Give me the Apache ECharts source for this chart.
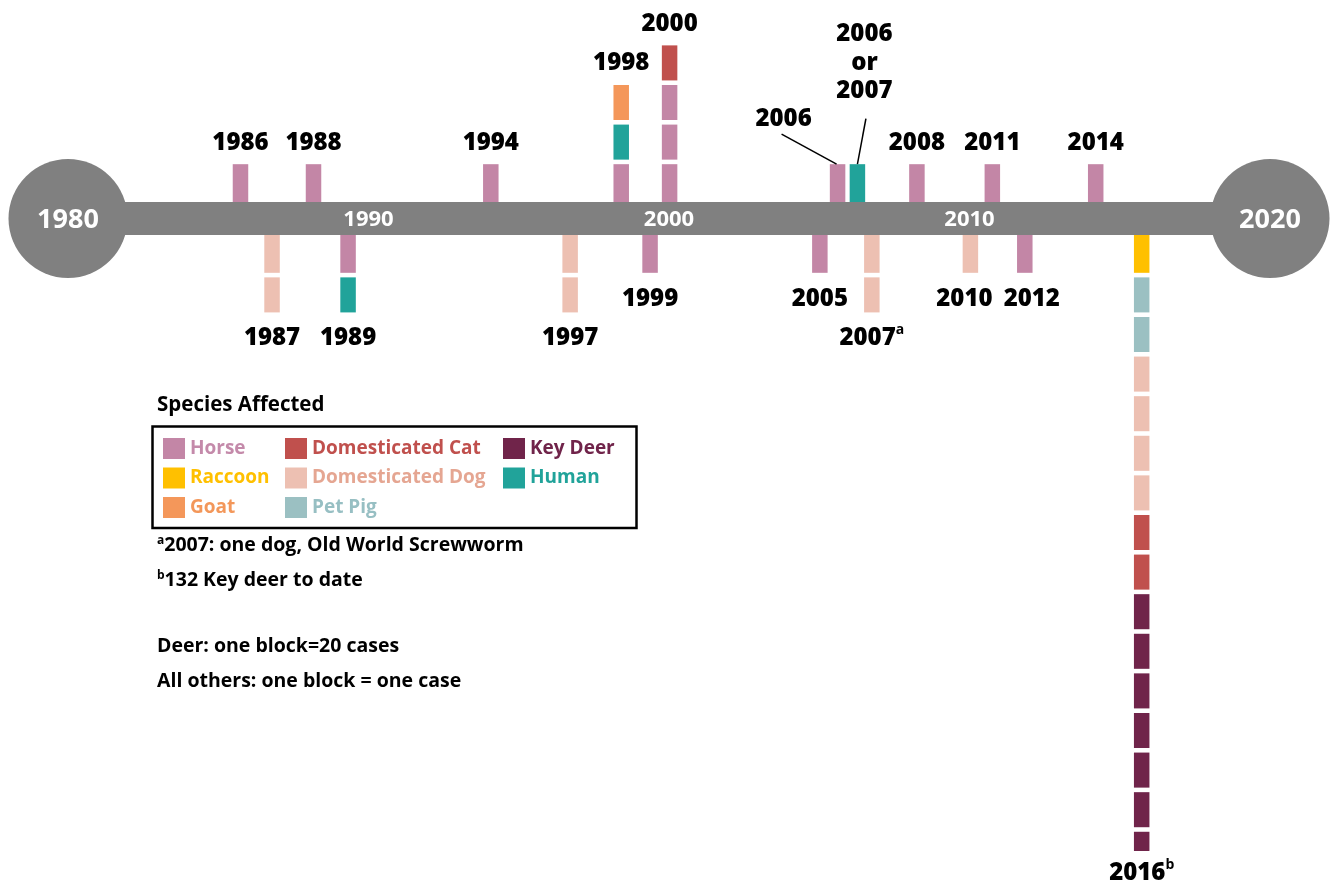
<!DOCTYPE html>
<html><head><meta charset="utf-8">
<script src="https://cdn.jsdelivr.net/npm/echarts@6/dist/echarts.min.js"></script>
<style>html,body{margin:0;padding:0;background:#fff}#chart{width:1331px;height:888px}</style>
</head><body><div id="chart"></div>
<script>
// ---------------- data ----------------
const species = ['Horse','Raccoon','Goat','Domesticated Cat','Domesticated Dog','Pet Pig','Key Deer','Human'];
const speciesColors = ['#C386A6','#FFC000','#F4975A','#C0504D','#EDC0B2','#9BC0C2','#70244A','#21A39A'];
const legendTextColors = ['#C48AAA','#FFC000','#F3975A','#C0504D','#E5A692','#97BFC3','#70244A','#21A39A'];
const legendColumns = [['Horse','Raccoon','Goat'],['Domesticated Cat','Domesticated Dog','Pet Pig'],['Key Deer','Human']];

// event labels as written on the chart
const eventLabels = ['1986','1987','1988','1989','1994','1997','1998','1999','2000','2005','2006','2006\nor\n2007','2007{sup|a}','2008','2010','2011','2012','2014','2016{sup|b}'];
// where each event sits along the timeline (years)
const eventAxisPos = [1985.74,1986.79,1988.17,1989.32,1994.07,1996.71,1998.41,1999.37,2000.02,2005.02,2005.61,2006.27,2006.75,2008.25,2010.03,2010.76,2011.84,2014.20,2015.73];
// 1 = above the timeline, -1 = below
const eventSide = [1,-1,1,-1,1,-1,1,-1,1,-1,1,1,-1,1,-1,1,-1,1,-1];
// cases, from the timeline outward
const eventCases = [
  [['Horse',1]],
  [['Domesticated Dog',2]],
  [['Horse',1]],
  [['Horse',1],['Human',1]],
  [['Horse',1]],
  [['Domesticated Dog',2]],
  [['Horse',1],['Human',1],['Goat',1]],
  [['Horse',1]],
  [['Horse',3],['Domesticated Cat',1]],
  [['Horse',1]],
  [['Horse',1]],
  [['Human',1]],
  [['Domesticated Dog',2]],
  [['Horse',1]],
  [['Domesticated Dog',1]],
  [['Horse',1]],
  [['Horse',1]],
  [['Horse',1]],
  [['Raccoon',1],['Pet Pig',2],['Domesticated Dog',4],['Domesticated Cat',2],['Key Deer',132]]
];
const deerCasesPerBlock = 20;
const axisEnds = [1980, 2020];
const axisTicks = [1980, 1990, 2000, 2010, 2020];

const legendTitle = 'Species Affected';
const footnotes = ['{sup|a}2007: one dog, Old World Screwworm','{sup|b}132 Key deer to date','Deer: one block=20 cases','All others: one block = one case'];

// ---------------- layout / style ----------------
const FONT = '"Open Sans", "Liberation Sans", sans-serif';
const BAR_HALF = 16.5;
const BLOCK_W = 15.5;
const labelTweaks = {
  10: {dx: -54, dy: -24, line: [[-56, -30], [-1, 0]]},
  11: {dx: 7, dy: -80, lineHeight: 28.5, line: [[8.5, -45.6], [0, 0]]},
  14: {dx: -6},
  16: {dx: 7},
  18: {dy: -4}
};

// build block and label data from the event arrays
const blockData = [];
const labelData = [];
eventLabels.forEach((lab, i) => {
  let k = 0, ext = 0;
  eventCases[i].forEach(([sp, n]) => {
    const si = species.indexOf(sp);
    let rem = sp === 'Key Deer' ? n / deerCasesPerBlock : n;
    while (rem > 1e-9) {
      const f = Math.min(1, rem);
      blockData.push([eventAxisPos[i], eventSide[i], k, f, si]);
      ext = k + f;
      k += 1; rem -= f;
    }
  });
  labelData.push([eventAxisPos[i], eventSide[i], ext, i]);
});

function renderBlock(params, api) {
  const x = api.value(0), side = api.value(1), k = api.value(2), f = api.value(3), si = api.value(4);
  const c = api.coord([x, 0]);
  const unit = api.size([0, 1])[1];
  const edge = c[1] - side * BAR_HALF;
  const d0 = k === 0 ? 0 : (k + 0.07) * unit;
  const d1 = (k + f - 0.045) * unit;
  const y0 = edge - side * d0, y1 = edge - side * d1;
  return {type: 'rect', shape: {x: c[0] - BLOCK_W / 2, y: Math.min(y0, y1), width: BLOCK_W, height: Math.abs(y1 - y0)},
    style: {fill: speciesColors[si]}};
}

function renderLabel(params, api) {
  const x = api.value(0), side = api.value(1), ext = api.value(2), i = api.value(3);
  const c = api.coord([x, 0]);
  const unit = api.size([0, 1])[1];
  const edge = c[1] - side * BAR_HALF;
  const endY = edge - side * (ext - 0.045) * unit;
  const tw = labelTweaks[i] || {};
  const ty = endY - side * (side > 0 ? 21.5 : 26) + (tw.dy || 0);
  const tx = c[0] + (tw.dx || 0);
  const children = [{
    type: 'text',
    style: {
      text: eventLabels[i], x: tx, y: ty, align: 'center', verticalAlign: 'middle',
      fontFamily: FONT, fontWeight: 800, fontSize: 24, fill: '#000',
      lineHeight: tw.lineHeight || 30,
      rich: {sup: {fontFamily: FONT, fontWeight: 'bold', fontSize: 14, verticalAlign: 'top', fill: '#000', lineHeight: 16}}
    }
  }];
  if (tw.line) {
    children.push({type: 'line', shape: {x1: c[0] + tw.line[0][0], y1: endY + tw.line[0][1], x2: c[0] + tw.line[1][0], y2: endY + tw.line[1][1]},
      style: {stroke: '#000', lineWidth: 1.5}});
  }
  return {type: 'group', children};
}

function renderTick(params, api) {
  const v = api.value(0);
  const c = api.coord([v, 0]);
  const isEnd = v === axisEnds[0] || v === axisEnds[1];
  return {type: 'text', style: {
    text: String(v), x: c[0], y: c[1] + (isEnd ? 2 : 1), align: 'center', verticalAlign: 'middle',
    fontFamily: FONT, fontWeight: 'bold', fontSize: isEnd ? 27 : 22, fill: '#fff'
  }};
}

const chart = echarts.init(document.getElementById('chart'), null, {renderer: 'canvas'});

const legendLefts = [163, 285, 503];
const option = {
  animation: false,
  backgroundColor: '#fff',
  grid: {left: 68, right: 61, top: 20.5, bottom: 35.9, containLabel: false, outerBoundsMode: 'none'},
  xAxis: {
    type: 'value', min: axisEnds[0], max: axisEnds[1], interval: 10,
    splitLine: {show: false}, axisTick: {show: false}, axisLine: {show: false}, axisLabel: {show: false}
  },
  yAxis: {type: 'value', min: -16, max: 5, show: false},
  legend: legendColumns.map((col, ci) => ({
    orient: 'vertical', left: legendLefts[ci], top: 438, padding: 0,
    itemWidth: 22, itemHeight: 21, itemGap: 8.5, icon: 'rect', selectedMode: false,
    textStyle: {fontFamily: FONT, fontWeight: 'bold', fontSize: 19},
    data: col.map(name => ({name, textStyle: {color: legendTextColors[species.indexOf(name)]}}))
  })),
  graphic: [
    {type: 'text', left: 157, top: 395, style: {text: legendTitle, fontFamily: FONT, fontWeight: 'bold', fontSize: 20.5, fill: '#000'}},
    {type: 'rect', shape: {x: 152.5, y: 426.5, width: 484, height: 101.5}, style: {fill: 'none', stroke: '#000', lineWidth: 2.5}},
    ...footnotes.map((t, i) => ({
      type: 'text', left: 157, top: [535, 570, 636, 671][i],
      style: {text: t, fontFamily: FONT, fontWeight: 'bold', fontSize: 19.5, fill: '#000',
        rich: {sup: {fontFamily: FONT, fontWeight: 'bold', fontSize: 12, verticalAlign: 'top', fill: '#000'}}}
    }))
  ],
  series: [
    {type: 'scatter', data: axisEnds.map(v => [v, 0]), symbolSize: 119, itemStyle: {color: '#808080', opacity: 1}, silent: true, z: 1},
    {type: 'line', data: axisEnds.map(v => [v, 0]), symbol: 'none', lineStyle: {color: '#808080', width: 33, cap: 'butt'}, silent: true, z: 1},
    {type: 'custom', name: 'ticks', renderItem: renderTick, data: axisTicks.map(v => [v]), silent: true, z: 5},
    {type: 'custom', name: 'blocks', renderItem: renderBlock, data: blockData, silent: true, z: 3},
    {type: 'custom', name: 'labels', renderItem: renderLabel, data: labelData, silent: true, z: 4},
    ...species.map((s, i) => ({type: 'scatter', name: s, data: [], itemStyle: {color: speciesColors[i], opacity: 1}}))
  ]
};
chart.setOption(option);
</script>
</body></html>
